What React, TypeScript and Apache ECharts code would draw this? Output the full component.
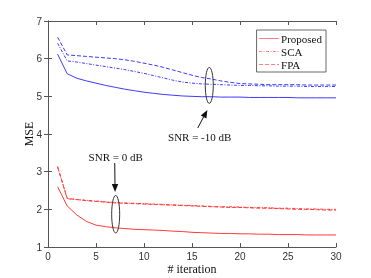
import React, { useEffect, useRef } from "react";
import * as echarts from "echarts";

const iterations = Array.from({ length: 30 }, (_, i) => i + 1);

// SNR = 0 dB (red)
const proposed0 = [2.6, 2.09, 1.85, 1.68, 1.58, 1.54, 1.51, 1.49, 1.47, 1.46, 1.45, 1.44, 1.42, 1.41, 1.39, 1.38, 1.37, 1.36, 1.36, 1.35, 1.35, 1.34, 1.34, 1.33, 1.33, 1.33, 1.32, 1.32, 1.32, 1.32];
const sca0 = [3.14, 2.28, 2.26, 2.24, 2.22, 2.2, 2.18, 2.17, 2.16, 2.15, 2.14, 2.13, 2.12, 2.11, 2.1, 2.09, 2.08, 2.07, 2.07, 2.06, 2.05, 2.05, 2.04, 2.03, 2.03, 2.02, 2.01, 2.01, 2.0, 2.0];
const fpa0 = [3.12, 2.29, 2.26, 2.23, 2.21, 2.19, 2.17, 2.16, 2.15, 2.14, 2.13, 2.12, 2.11, 2.1, 2.09, 2.08, 2.07, 2.06, 2.05, 2.05, 2.04, 2.03, 2.03, 2.02, 2.01, 2.0, 2.0, 1.99, 1.98, 1.98];

// SNR = -10 dB (blue)
const proposed10 = [6.12, 5.6, 5.48, 5.41, 5.35, 5.29, 5.24, 5.19, 5.15, 5.11, 5.08, 5.05, 5.03, 5.01, 5.0, 4.99, 4.99, 4.98, 4.98, 4.98, 4.97, 4.97, 4.97, 4.97, 4.97, 4.96, 4.96, 4.96, 4.96, 4.96];
const sca10 = [6.41, 5.94, 5.91, 5.87, 5.83, 5.79, 5.75, 5.71, 5.66, 5.61, 5.55, 5.49, 5.43, 5.38, 5.35, 5.33, 5.32, 5.31, 5.3, 5.29, 5.29, 5.28, 5.28, 5.27, 5.27, 5.27, 5.26, 5.26, 5.26, 5.26];
const fpa10 = [6.57, 6.1, 6.08, 6.06, 6.04, 6.02, 6.0, 5.97, 5.93, 5.88, 5.83, 5.77, 5.7, 5.63, 5.56, 5.5, 5.46, 5.41, 5.37, 5.34, 5.33, 5.32, 5.31, 5.31, 5.31, 5.31, 5.3, 5.3, 5.3, 5.3];

const seriesNames = ["Proposed", "SCA", "FPA"];
const xTicks = [0, 5, 10, 15, 20, 25, 30];
const yTicks = [1, 2, 3, 4, 5, 6, 7];

const RED = "#ff3a3a";
const BLUE = "#3a3aff";
const SERIF = "Liberation Serif";
const SANS = "Liberation Sans";

const dashStyles: any[] = ["solid", [3, 1.5, 1, 1.5], [4, 2]];

export default function App() {
  const ref = useRef<HTMLDivElement>(null);

  useEffect(() => {
    if (!ref.current) return;
    const chart = echarts.init(ref.current, null, { renderer: "svg" });
    const pair = (ys: number[]) => iterations.map((x, i) => [x, ys[i]]);
    const mk = (name: string, ys: number[], color: string, t: any) => ({
      name,
      type: "line",
      data: pair(ys),
      symbol: "none",
      showSymbol: false,
      lineStyle: { color, width: 1, type: t },
      itemStyle: { color },
      z: 3,
    });
    const axisLine = { show: true, lineStyle: { color: "#555", width: 1 } };
    const tick = { show: true, inside: true, length: 4, lineStyle: { color: "#555" } };

    chart.setOption({
      animation: false,
      grid: { left: 48, right: 35, top: 21, bottom: 31, outerBoundsMode: "none", containLabel: false },
      legend: {
        data: seriesNames,
        orient: "vertical",
        right: 45,
        top: 30,
        padding: [3, 4, 2, 2],
        itemWidth: 20,
        itemHeight: 8,
        itemGap: 2,
        backgroundColor: "#fff",
        borderColor: "#444",
        borderWidth: 0.8,
        borderRadius: 0,
        itemStyle: { opacity: 0 },
        lineStyle: { width: 1, color: "#ff8080" },
        textStyle: { fontFamily: SERIF, fontSize: 11, color: "#111", padding: [0, 0, 0, -3] },
      },
      xAxis: [
        {
          type: "value",
          min: 0,
          max: 30,
          interval: 5,
          name: "# iteration",
          nameLocation: "middle",
          nameGap: 16,
          nameMoveOverlap: false,
          nameTextStyle: { fontFamily: SERIF, fontSize: 12, color: "#111" },
          axisLine,
          axisTick: tick,
          splitLine: { show: false },
          axisLabel: { fontFamily: SANS, fontSize: 10, color: "#333", margin: 4, formatter: (v: number) => (xTicks.includes(v) ? String(v) : "") },
        },
        {
          type: "value",
          position: "top",
          min: 0,
          max: 30,
          interval: 5,
          axisLine,
          axisTick: tick,
          splitLine: { show: false },
          axisLabel: { show: false },
        },
      ],
      yAxis: [
        {
          type: "value",
          min: 1,
          max: 7,
          interval: 1,
          name: "MSE",
          nameLocation: "middle",
          nameGap: 13,
          nameMoveOverlap: false,
          nameTextStyle: { fontFamily: SERIF, fontSize: 12, color: "#111" },
          axisLine,
          axisTick: tick,
          splitLine: { show: false },
          axisLabel: { fontFamily: SANS, fontSize: 10, color: "#333", margin: 6, formatter: (v: number) => (yTicks.includes(v) ? String(v) : "") },
        },
        {
          type: "value",
          position: "right",
          min: 1,
          max: 7,
          interval: 1,
          axisLine,
          axisTick: tick,
          splitLine: { show: false },
          axisLabel: { show: false },
        },
      ],
      series: [
        mk(seriesNames[0], proposed0, RED, dashStyles[0]),
        mk(seriesNames[1], sca0, RED, dashStyles[1]),
        mk(seriesNames[2], fpa0, RED, dashStyles[2]),
        mk(seriesNames[0], proposed10, BLUE, dashStyles[0]),
        mk(seriesNames[1], sca10, BLUE, dashStyles[1]),
        mk(seriesNames[2], fpa10, BLUE, dashStyles[2]),
      ],
    });

    const px = (x: number, y: number) => chart.convertToPixel({ xAxisIndex: 0, yAxisIndex: 0 }, [x, y]) as number[];
    const arrow = (from: number[], to: number[]) => {
      const a = px(from[0], from[1]);
      const b = px(to[0], to[1]);
      const ang = Math.atan2(b[1] - a[1], b[0] - a[0]);
      const L = 8, W = 3.2;
      const bx = b[0] - L * Math.cos(ang), by = b[1] - L * Math.sin(ang);
      const nx = -Math.sin(ang) * W, ny = Math.cos(ang) * W;
      return [
        { type: "line", shape: { x1: a[0], y1: a[1], x2: bx, y2: by }, style: { stroke: "#111", lineWidth: 1 } },
        { type: "polygon", shape: { points: [[b[0], b[1]], [bx + nx, by + ny], [bx - nx, by - ny]] }, style: { fill: "#111" } },
      ];
    };
    const ell = (x: number, y: number, rx: number, ry: number) => {
      const c = px(x, y);
      return { type: "ellipse", shape: { cx: c[0], cy: c[1], rx, ry }, style: { fill: "none", stroke: "#333", lineWidth: 1 }, z: 10 };
    };
    const label = (x: number, y: number, text: string) => {
      const c = px(x, y);
      return { type: "text", x: c[0], y: c[1], style: { text, fontFamily: SERIF, fontSize: 11, fill: "#111", align: "center", verticalAlign: "middle" }, z: 10 };
    };

    chart.setOption({
      graphic: [
        ell(16.8, 5.29, 4, 18),
        ell(7.05, 1.87, 4, 18.8),
        ...arrow([15.6, 4.16], [16.6, 4.64]),
        ...arrow([6.95, 3.23], [6.99, 2.46]),
        label(15.8, 3.93, "SNR = -10 dB"),
        label(7.05, 3.39, "SNR = 0 dB"),
      ],
    });

    return () => chart.dispose();
  }, []);

  return <div ref={ref} style={{ width: 371, height: 278, position: "fixed", left: 0, top: 0 }} />;
}
